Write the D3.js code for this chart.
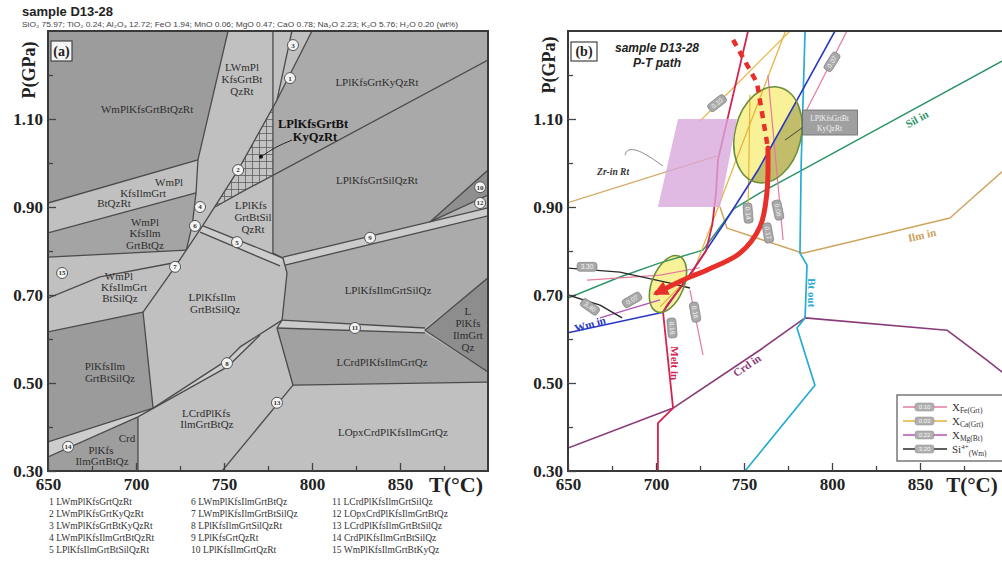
<!DOCTYPE html>
<html>
<head>
<meta charset="utf-8">
<script src="https://cdn.jsdelivr.net/npm/d3@7/dist/d3.min.js"></script>
<style>
  html, body { margin:0; padding:0; background:#ffffff; }
  svg { display:block; }
</style>
</head>
<body>
<svg id="chart" width="1002" height="564"></svg>
<script>
// ================= DATA =================
const tempDomain = [650, 900];
const pressDomain = [0.30, 1.30];
const tempTicks = [650, 700, 750, 800, 850];
const tempMinorTicks = [675, 725, 775, 825, 875];
const pressTicks = [0.30, 0.50, 0.70, 0.90, 1.10];
const pressMinorTicks = [0.40, 0.60, 0.80, 1.00, 1.20];

const sampleName = "sample D13-28";
const bulkComposition = "SiO\u2082 75.97; TiO\u2082 0.24; Al\u2082O\u2083 12.72; FeO 1.94; MnO 0.06; MgO 0.47; CaO 0.78; Na\u2082O 2.23; K\u2082O 5.76; H\u2082O 0.20 (wt%)";

// ---- Panel (a) phase fields, [T (°C), P (GPa)] ----
const fieldWmPlKfsGrtBtQzRt   = [[650,1.30],[752.3,1.30],[735.2,1.007],[650,0.909]];
const fieldWmPlKfsIlmGrtBtQz  = [[650,0.841],[734.1,0.932],[732,0.86],[728.6,0.802],[650,0.786]];
const fieldPlKfsIlmGrtBtSilQz = [[650,0.616],[704,0.661],[709.7,0.443],[650,0.366]];
const fieldCrdPlKfsIlmGrtBtQz = [[650,0.332],[701.1,0.423],[701.1,0.30],[650,0.30]];
const fieldLPlKfsGrtKyQzRt    = [[800,1.30],[900,1.30],[900,1.234],[777.8,0.972],[777.8,1.127],[780.1,1.143]];
const fieldLPlKfsGrtSilQzRt   = [[777.8,0.972],[900,1.234],[900,0.984],[867,0.866],[783.5,0.786],[777.8,0.795]];
const fieldLPlKfsIlmGrtSilQz  = [[784.7,0.768],[900,0.880],[900,0.739],[864.2,0.625],[783,0.643],[785.8,0.75]];
const fieldLCrdPlKfsIlmGrtQz  = [[780.1,0.625],[864.2,0.614],[900,0.525],[900,0.502],[789.2,0.495]];
const fieldLPlKfsIlmGrtQz     = [[864.2,0.62],[900,0.739],[900,0.525]];
const fieldWedgeHighT1        = [[867,0.866],[900,0.984],[900,0.927]];
const fieldWedgeHighT2        = [[867,0.866],[900,0.927],[900,0.898]];
const fieldPeakHatched        = [[777.8,1.127],[777.8,0.972],[744.9,0.900],[758,0.984]];
const band5  = [[650,0.366],[709.7,0.443],[751.7,0.552],[770.5,0.609],[751.7,0.536],[701.1,0.423],[650,0.332]];
const bandB5 = [[738.1,0.857],[783.5,0.784],[781.8,0.766],[736.4,0.843]];
const band9  = [[783.5,0.786],[900,0.898],[900,0.880],[784.7,0.768]];
const band11 = [[783,0.643],[864.2,0.625],[864.2,0.614],[780.1,0.625]];

// ---- Panel (a) field boundaries ----
const boundaryLinesA = [
  [[752.3,1.30],[735.2,1.007],[734.1,0.932],[732,0.86],[728.6,0.802]],
  [[650,0.909],[735.2,1.007]],
  [[650,0.841],[734.1,0.932]],
  [[650,0.786],[728.6,0.802]],
  [[650,0.693],[679.5,0.741],[723.9,0.775]],
  [[650,0.616],[704,0.661]],
  [[800,1.30],[780.1,1.143],[758,0.984],[738.1,0.859],[722.2,0.764],[704,0.661]],
  [[788.6,1.30],[780.1,1.143]],
  [[777.8,1.30],[777.8,0.795],[783.5,0.784]],
  [[900,1.234],[759.1,0.932],[744.9,0.900]],
  [[704,0.661],[709.7,0.443]],
  [[650,0.366],[709.7,0.443],[751.7,0.552],[759.1,0.582],[783,0.643]],
  [[650,0.332],[701.1,0.423],[751.7,0.536],[770.5,0.609]],
  [[701.1,0.423],[701.1,0.30]],
  [[738.1,0.857],[783.5,0.784]],
  [[736.4,0.843],[781.8,0.766]],
  [[783.5,0.786],[900,0.898]],
  [[784.7,0.768],[900,0.880]],
  [[867,0.866],[900,0.984]],
  [[867,0.866],[900,0.927]],
  [[783.5,0.784],[785.8,0.75],[783,0.643],[780.1,0.625],[789.2,0.495]],
  [[783,0.643],[864.2,0.625]],
  [[780.1,0.625],[864.2,0.614]],
  [[900,0.739],[864.2,0.62],[900,0.525]],
  [[789.2,0.495],[900,0.502]],
  [[748.9,0.30],[789.2,0.495]]
];

// ---- Panel (a) field labels [T, P, text] ----
const fieldLabelsA = [
  [706.3,1.123,"WmPlKfsGrtBtQzRt"],
  [760.2,1.218,"LWmPl"],[760.2,1.191,"KfsGrtBt"],[760.2,1.164,"QzRt"],
  [836.9,1.184,"LPlKfsGrtKyQzRt"],
  [836.9,0.961,"LPlKfsGrtSilQzRt"],
  [718.8,0.957,"WmPl"],[704,0.932,"KfsIlmGrt"],[687.5,0.909,"BtQzRt"],
  [705.1,0.866,"WmPl"],[705.1,0.841,"KfsIlm"],[705.1,0.814,"GrtBtQz"],
  [690.3,0.742,"WmPl"],[693.2,0.717,"KfsIlmGrt"],[690.9,0.692,"BtSilQz"],
  [765.3,0.905,"LPlKfs"],[766.5,0.877,"GrtBtSil"],[766.5,0.850,"QzRt"],
  [743.2,0.695,"LPlKfsIlm"],[744.9,0.668,"GrtBtSilQz"],
  [682.4,0.539,"PlKfsIlm"],[685.2,0.511,"GrtBtSilQz"],
  [739.8,0.432,"LCrdPlKfs"],[740.3,0.407,"IlmGrtBtQz"],
  [694.9,0.375,"Crd"],[680.1,0.348,"PlKfs"],[680.7,0.323,"IlmGrtBtQz"],
  [843.2,0.711,"LPlKfsIlmGrtSilQz"],
  [839.8,0.548,"LCrdPlKfsIlmGrtQz"],
  [888.6,0.664,"L"],[888.6,0.636,"PlKfs"],[888.6,0.609,"IlmGrt"],[888.6,0.582,"Qz"],
  [846,0.389,"LOpxCrdPlKfsIlmGrtQz"]
];
const peakLabelA = [[800.6,1.089,"LPlKfsGrtBt"],[801.7,1.061,"KyQzRt"]];
const peakLeaderA = [[788.6,1.052],[780.7,1.039],[775,1.025],[771,1.014]];

// ---- Panel (a) numbered small fields [T, P, number] ----
const smallFieldMarks = [
  [789.2,1.268,"3"],[787.5,1.193,"1"],[758,0.984,"2"],[736.4,0.900,"4"],[733.5,0.857,"6"],
  [757.4,0.820,"5"],[722.2,0.764,"7"],[658,0.750,"15"],[751.7,0.545,"8"],[661.4,0.355,"14"],
  [780.1,0.455,"13"],[824.4,0.625,"11"],[833,0.830,"9"],[895.5,0.945,"10"],[895.5,0.909,"12"]
];

const assemblageList = [
  "1 LWmPlKfsGrtQzRt","2 LWmPlKfsGrtKyQzRt","3 LWmPlKfsGrtBtKyQzRt","4 LWmPlKfsIlmGrtBtQzRt","5 LPlKfsIlmGrtBtSilQzRt",
  "6 LWmPlKfsIlmGrtBtQz","7 LWmPlKfsIlmGrtBtSilQz","8 LPlKfsIlmGrtSilQzRt","9 LPlKfsGrtQzRt","10 LPlKfsIlmGrtQzRt",
  "11 LCrdPlKfsIlmGrtSilQz","12 LOpxCrdPlKfsIlmGrtBtQz","13 LCrdPlKfsIlmGrtBtSilQz","14 CrdPlKfsIlmGrtBtSilQz","15 WmPlKfsIlmGrtBtKyQz"
];

// ---- Panel (b) reaction lines ----
const meltInLine = [[752.3,1.30],[735.2,1.007],[734.1,0.932],[732,0.86],[728.4,0.80],[718.2,0.739],[706.3,0.677],[704,0.661],[709.7,0.443],[701.1,0.409],[701.1,0.30]];
const wmOutLine  = [[801.7,1.30],[780.1,1.143],[758,0.984],[738.1,0.859],[722.2,0.764],[704,0.661],[650,0.614]];
const btOutLine  = [[784.7,1.30],[782.5,1.00],[781.8,0.795],[785.8,0.768],[784.7,0.648],[780.1,0.625],[790.3,0.495],[750.6,0.30]];
const silInLine  = [[900,1.239],[783,0.984],[759.1,0.932],[744,0.895],[726.7,0.802],[702.3,0.773],[679.5,0.741],[650,0.693]];
const crdInLine  = [[650,0.352],[709.7,0.443],[759.1,0.575],[784.7,0.648],[865.3,0.620],[888,0.552],[900,0.514]];
const ilmInLine  = [[900,0.992],[867,0.875],[783.5,0.795],[740.3,0.852],[736.4,0.90]];
const rtLine     = [[650,0.91],[734.7,1.016]];
// ---- Panel (b) isopleths ----
const xCaIso1 = [[776.1,1.30],[734.7,1.134],[724.4,1.093]];
const xCaIso2 = [[773.6,1.30],[721,0.75],[702.3,0.673]];
const xCaIso3 = [[753.4,1.155],[752.3,0.886]];
const xFeIso1 = [[763.6,1.20],[772.2,0.825]];
const xFeIso2 = [[660.8,0.734],[702.3,0.745],[725,0.762]];
const xFeIso3 = [[719.3,0.711],[726.7,0.564]];
const xFeIso4 = [[808.5,1.30],[783,1.10]];
const xMgIso1 = [[668.2,0.648],[702.3,0.689]];
const siIso1  = [[650,0.761],[679.5,0.752],[708,0.727],[719.3,0.716]];
const siIso2  = [[650,0.70],[668.2,0.677],[680.7,0.648]];
const isoLabels = [
  [800,1.23,"0.07",-58],[734.7,1.136,"0.10",-38],[752.3,0.886,"0.14",85],[769.3,0.893,"0.06",78],
  [763.6,0.841,"0.17",80],[660.8,0.764,"3.30",0],[662.5,0.673,"3.40",35],[686.4,0.689,"0.07",-30],
  [709.1,0.625,"0.16",85],[722.2,0.661,"0.16",80]
];
// ---- Panel (b) Zr-in-rutile box, P–T path and estimates ----
const zrInRtBox = [[712.5,1.10],[746,1.10],[736.4,0.90],[701.1,0.90]];
const zrLabel = [675.6,0.98,"Zr-in Rt"];
const zrLeader = [[682.4,1.018],[683.5,1.032],[690.9,1.030],[704,0.993]];
const ptPathPeak = [[743.8,1.28],[757.4,1.182],[763.6,1.034]];
const ptPathRetro = [[763.6,1.034],[763,0.932],[759.1,0.855],[747.7,0.795],[729,0.757],[718.2,0.739],[700.6,0.705]];
const ellipseCentres = [[763.6,1.064],[706.8,0.725]];
const ellipseHalfT = [18.75, 9.1];
const ellipseHalfP = [0.111, 0.068];
const peakFieldB = [[781.8,1.155],[783,0.984],[759.1,0.932],[744,0.895],[758,0.984]];
const peakCalloutAt = [798.6,1.092];
const peakCalloutTarget = [773.3,1.052];
const peakCalloutText = ["LPlKfsGrtBt","KyQzRt"];
const reactionLabels = [
  [848.3,1.100,"Sil in",-29,"sil"],[851.1,0.836,"Ilm in",-13,"ilm"],[788.6,0.705,"Bt out",90,"bt"],
  [751.7,0.540,"Crd in",-34,"crd"],[710.6,0.545,"Melt in",90,"melt"],[662.5,0.634,"Wm in",-16,"wm"]
];
const legendMain = ["X","X","X","Si"];
const legendSup  = ["","","","4+"];
const legendSub  = ["Fe(Grt)","Ca(Grt)","Mg(Bt)","(Wm)"];
const legendSample = ["0.10","0.03","0.22","3.20"];

// ================= DRAWING =================
const svg = d3.select("#chart");
const SERIF = "'Liberation Serif','Times New Roman',serif";
const SANS = "'Liberation Sans',Arial,Helvetica,sans-serif";

const xA = d3.scaleLinear().domain(tempDomain).range([48, 488]);
const yA = d3.scaleLinear().domain(pressDomain).range([471, 31]);
const xB = d3.scaleLinear().domain(tempDomain).range([568, 1008]);
const yB = yA.copy();
const lineA = d3.line().x(d => xA(d[0])).y(d => yA(d[1]));
const lineB = d3.line().x(d => xB(d[0])).y(d => yB(d[1]));

const defs = svg.append("defs");
defs.append("clipPath").attr("id","clipA").append("rect").attr("x",48).attr("y",31).attr("width",440).attr("height",440);
defs.append("clipPath").attr("id","clipB").append("rect").attr("x",568).attr("y",31).attr("width",440).attr("height",440);
const pat = defs.append("pattern").attr("id","grid").attr("patternUnits","userSpaceOnUse").attr("width",7).attr("height",7);
pat.append("rect").attr("width",7).attr("height",7).attr("fill","#c3c3c3");
pat.append("path").attr("d","M0,0.5H7M0.5,0V7").attr("stroke","#5f5f5f").attr("stroke-width",0.8);
const mk = defs.append("marker").attr("id","arrowRed").attr("viewBox","0 0 10 10").attr("refX",7).attr("refY",5)
  .attr("markerUnits","userSpaceOnUse").attr("markerWidth",15).attr("markerHeight",15).attr("orient","auto");
mk.append("path").attr("d","M0,0L10,5L0,10Z").attr("fill","#e8302a");

// header
svg.append("text").attr("x",22).attr("y",16).attr("font-family",SANS).attr("font-weight","bold")
  .attr("font-size",13).attr("fill","#222").text(sampleName);
svg.append("text").attr("x",22).attr("y",26.5).attr("font-family",SANS).attr("font-size",6.8)
  .attr("fill","#444").attr("textLength",436).attr("lengthAdjust","spacingAndGlyphs").text(bulkComposition);

function drawAxes(g, x, y) {
  const bottom = y.range()[0], left = x.range()[0];
  const parts = [];
  parts.push(g.append("g").attr("transform",`translate(0,${bottom})`)
    .call(d3.axisBottom(x).tickValues(tempTicks).tickSize(-8).tickPadding(7).tickFormat(d3.format("d"))));
  parts.push(g.append("g").attr("transform",`translate(0,${bottom})`)
    .call(d3.axisBottom(x).tickValues(tempMinorTicks).tickSize(-5).tickFormat("")));
  parts.push(g.append("g").attr("transform",`translate(${left},0)`)
    .call(d3.axisLeft(y).tickValues(pressTicks).tickSize(-8).tickPadding(5).tickFormat(d3.format(".2f"))));
  parts.push(g.append("g").attr("transform",`translate(${left},0)`)
    .call(d3.axisLeft(y).tickValues(pressMinorTicks).tickSize(-5).tickFormat("")));
  parts.forEach(a => {
    a.select(".domain").remove();
    a.selectAll(".tick line").attr("stroke","#444").attr("stroke-width",1.3);
    a.selectAll(".tick text").attr("font-family",SERIF).attr("font-weight","bold").attr("font-size",17).attr("fill","#222");
  });
}

// ---------- Panel (a) ----------
const gA = svg.append("g");
const plotA = gA.append("g").attr("clip-path","url(#clipA)");
plotA.append("rect").attr("x",48).attr("y",31).attr("width",440).attr("height",440).attr("fill","#c0c0c0");
const fieldsA = [
  [fieldWmPlKfsGrtBtQzRt,"#9c9c9c"],[fieldWmPlKfsIlmGrtBtQz,"#a4a4a4"],[fieldPlKfsIlmGrtBtSilQz,"#9b9b9b"],
  [fieldCrdPlKfsIlmGrtBtQz,"#9e9e9e"],[fieldLPlKfsGrtKyQzRt,"#aaaaaa"],[fieldLPlKfsGrtSilQzRt,"#a9a9a9"],
  [fieldLPlKfsIlmGrtSilQz,"#ababab"],[fieldLCrdPlKfsIlmGrtQz,"#a1a1a1"],[fieldLPlKfsIlmGrtQz,"#8d8d8d"],
  [fieldWedgeHighT1,"#8f8f8f"],[fieldWedgeHighT2,"#b4b4b4"],
  [band5,"#cdcdcd"],[bandB5,"#cdcdcd"],[band9,"#cbcbcb"],[band11,"#cbcbcb"],
  [fieldPeakHatched,"url(#grid)"]
];
plotA.selectAll("path.field").data(fieldsA).join("path").attr("class","field")
  .attr("d", d => lineA(d[0]) + "Z").attr("fill", d => d[1]).attr("stroke","none");
plotA.selectAll("path.bnd").data(boundaryLinesA).join("path").attr("class","bnd")
  .attr("d", lineA).attr("fill","none").attr("stroke","#4b4b4b").attr("stroke-width",1.3).attr("stroke-linejoin","round");

plotA.selectAll("text.fl").data(fieldLabelsA).join("text").attr("class","fl")
  .attr("x", d => xA(d[0])).attr("y", d => yA(d[1])).attr("dy","0.35em").attr("text-anchor","middle")
  .attr("font-family",SERIF).attr("font-size",11).attr("fill","#2e2e2e").text(d => d[2]);
plotA.selectAll("text.pk").data(peakLabelA).join("text").attr("class","pk")
  .attr("x", d => xA(d[0])).attr("y", d => yA(d[1])).attr("dy","0.35em").attr("text-anchor","middle")
  .attr("font-family",SERIF).attr("font-weight","bold").attr("font-size",12.5).attr("fill","#111").text(d => d[2]);
plotA.append("path").attr("d", d3.line().curve(d3.curveBasis).x(d=>xA(d[0])).y(d=>yA(d[1]))(peakLeaderA))
  .attr("fill","none").attr("stroke","#222").attr("stroke-width",1);
plotA.append("circle").attr("cx", xA(peakLeaderA[3][0])).attr("cy", yA(peakLeaderA[3][1])).attr("r",2).attr("fill","#111");

const marks = plotA.selectAll("g.mk").data(smallFieldMarks).join("g").attr("class","mk")
  .attr("transform", d => `translate(${xA(d[0])},${yA(d[1])})`);
marks.append("circle").attr("r",5.5).attr("fill","#f3f3f3").attr("stroke","#555").attr("stroke-width",1);
marks.append("text").attr("text-anchor","middle").attr("dy","0.35em").attr("font-family",SERIF)
  .attr("font-size",7).attr("font-weight","bold").attr("fill","#333").text(d => d[2]);

gA.append("rect").attr("x",48).attr("y",31).attr("width",440).attr("height",440)
  .attr("fill","none").attr("stroke","#3a3a3a").attr("stroke-width",2);
drawAxes(gA, xA, yA);
gA.append("rect").attr("x",51).attr("y",41).attr("width",21).attr("height",20).attr("fill","#f4f4f4").attr("stroke","#444").attr("stroke-width",1.2);
gA.append("text").attr("x",61.5).attr("y",56).attr("text-anchor","middle").attr("font-family",SERIF)
  .attr("font-weight","bold").attr("font-size",14).attr("fill","#222").text("(a)");
gA.append("text").attr("transform","translate(35,70) rotate(-90)").attr("text-anchor","middle")
  .attr("font-family",SERIF).attr("font-weight","bold").attr("font-size",18).attr("fill","#222").text("P(GPa)");
gA.append("text").attr("x",456).attr("y",492).attr("text-anchor","middle").attr("font-family",SERIF)
  .attr("font-weight","bold").attr("font-size",22).attr("fill","#222").text("T(\u00B0C)");

const legCols = [49, 191, 332];
svg.append("g").selectAll("text").data(assemblageList).join("text")
  .attr("x", (d,i) => legCols[Math.floor(i/5)]).attr("y", (d,i) => 505 + (i%5)*12)
  .attr("font-family",SERIF).attr("font-size",9.5).attr("fill","#333").text(d => d);

// ---------- Panel (b) ----------
const gB = svg.append("g");
const plotB = gB.append("g").attr("clip-path","url(#clipB)");
const tilt = [14, 22];
const ellG = ellipseCentres.map((c,i) => {
  const rx = xB(c[0] + ellipseHalfT[i]) - xB(c[0]);
  const ry = yB(c[1] - ellipseHalfP[i]) - yB(c[1]);
  return {cx: xB(c[0]), cy: yB(c[1]), rx, ry, a: tilt[i]};
});
const cp = defs.append("clipPath").attr("id","ellUp");
cp.append("ellipse").attr("transform",`translate(${ellG[0].cx},${ellG[0].cy}) rotate(${ellG[0].a})`)
  .attr("rx",ellG[0].rx).attr("ry",ellG[0].ry);
plotB.selectAll("ellipse.est").data(ellG).join("ellipse").attr("class","est")
  .attr("transform", d => `translate(${d.cx},${d.cy}) rotate(${d.a})`)
  .attr("rx", d => d.rx).attr("ry", d => d.ry).attr("fill","#f8ef8c").attr("fill-opacity",0.9);
plotB.append("path").attr("d", lineB(peakFieldB) + "Z").attr("fill","#8c8a40").attr("fill-opacity",0.5)
  .attr("clip-path","url(#ellUp)");

const linesB = [
  [rtLine,"#d3aa68",1.3],[ilmInLine,"#cfa45e",1.5],[crdInLine,"#8a3a78",1.6],[silInLine,"#2e9468",1.5],
  [btOutLine,"#27acd4",1.7],[xCaIso1,"#e6b23a",1.2],[xCaIso2,"#e6b23a",1.2],[xCaIso3,"#e6b23a",1.2],
  [xFeIso1,"#e47a9c",1.2],[xFeIso2,"#e47a9c",1.2],[xFeIso3,"#e47a9c",1.2],[xFeIso4,"#e47a9c",1.2],
  [xMgIso1,"#b055b5",1.3],[siIso1,"#2a2a2a",1.4],[siIso2,"#2a2a2a",1.4],
  [wmOutLine,"#2838c4",1.6],[meltInLine,"#d4244f",1.8]
];
plotB.selectAll("path.rx").data(linesB).join("path").attr("class","rx")
  .attr("d", d => lineB(d[0])).attr("fill","none").attr("stroke", d => d[1]).attr("stroke-width", d => d[2])
  .attr("stroke-linejoin","round");

plotB.selectAll("ellipse.out").data(ellG).join("ellipse").attr("class","out")
  .attr("transform", d => `translate(${d.cx},${d.cy}) rotate(${d.a})`)
  .attr("rx", d => d.rx).attr("ry", d => d.ry).attr("fill","none").attr("stroke","#6b8f3a").attr("stroke-width",1.6);

plotB.append("path").attr("d", lineB(zrInRtBox) + "Z").attr("fill","#d9a7dc").attr("fill-opacity",0.78);
plotB.append("path").attr("d", d3.line().curve(d3.curveBasis).x(d=>xB(d[0])).y(d=>yB(d[1]))(zrLeader))
  .attr("fill","none").attr("stroke","#888").attr("stroke-width",1);
plotB.append("text").attr("x", xB(zrLabel[0])).attr("y", yB(zrLabel[1])).attr("dy","0.35em").attr("text-anchor","middle")
  .attr("font-family",SERIF).attr("font-weight","bold").attr("font-style","italic").attr("font-size",9.5).attr("fill","#333").text(zrLabel[2]);

// P–T path
plotB.append("path").attr("d", lineB(ptPathPeak)).attr("fill","none").attr("stroke","#e8302a")
  .attr("stroke-width",4.5).attr("stroke-dasharray","7,6");
plotB.append("path").attr("d", d3.line().curve(d3.curveCatmullRom).x(d=>xB(d[0])).y(d=>yB(d[1]))(ptPathRetro))
  .attr("fill","none").attr("stroke","#e8302a").attr("stroke-width",5).attr("stroke-linecap","round")
  .attr("marker-end","url(#arrowRed)");

// isopleth value tags
const tags = plotB.selectAll("g.tag").data(isoLabels).join("g").attr("class","tag")
  .attr("transform", d => `translate(${xB(d[0])},${yB(d[1])}) rotate(${d[3]})`);
tags.append("rect").attr("x",-10).attr("y",-4.5).attr("width",20).attr("height",9).attr("rx",3)
  .attr("fill","#a9a9a9").attr("stroke","#777").attr("stroke-width",0.6);
tags.append("text").attr("text-anchor","middle").attr("dy","0.35em").attr("font-family",SANS)
  .attr("font-size",6.5).attr("fill","#f5f5f5").text(d => d[2]);

// callout for peak field
const co = plotB.append("g").attr("transform",`translate(${xB(peakCalloutAt[0])},${yB(peakCalloutAt[1])})`);
co.append("rect").attr("x",-27).attr("y",-12.5).attr("width",55).attr("height",25)
  .attr("fill","#a0a0a0").attr("stroke","#666").attr("stroke-width",0.8);
co.selectAll("text").data(peakCalloutText).join("text").attr("text-anchor","middle")
  .attr("y",(d,i)=> -2 + i*10).attr("font-family",SERIF).attr("font-size",7.5).attr("fill","#f2f2f2").text(d=>d);
plotB.append("line").attr("x1", xB(peakCalloutAt[0]) - 27).attr("y1", yB(peakCalloutAt[1]) + 5)
  .attr("x2", xB(peakCalloutTarget[0])).attr("y2", yB(peakCalloutTarget[1])).attr("stroke","#444").attr("stroke-width",1);

// reaction labels
const rxColor = {sil:"#2e9468", ilm:"#c9a05a", bt:"#27acd4", crd:"#8a3a78", melt:"#d4244f", wm:"#2838c4"};
plotB.selectAll("text.rl").data(reactionLabels).join("text").attr("class","rl")
  .attr("transform", d => `translate(${xB(d[0])},${yB(d[1])}) rotate(${d[3]})`)
  .attr("text-anchor","middle").attr("dy","0.35em").attr("font-family",SERIF).attr("font-weight","bold")
  .attr("font-size",11).attr("fill", d => rxColor[d[4]]).text(d => d[2]);

// frame & axes
gB.append("rect").attr("x",568).attr("y",31).attr("width",440).attr("height",440)
  .attr("fill","none").attr("stroke","#3a3a3a").attr("stroke-width",2);
drawAxes(gB, xB, yB);
gB.append("rect").attr("x",571).attr("y",42).attr("width",26).attr("height",19).attr("fill","#fff").attr("stroke","#444").attr("stroke-width",1.2);
gB.append("text").attr("x",584).attr("y",56).attr("text-anchor","middle").attr("font-family",SERIF)
  .attr("font-weight","bold").attr("font-size",14).attr("fill","#222").text("(b)");
gB.append("text").attr("x",657).attr("y",52).attr("text-anchor","middle").attr("font-family",SANS)
  .attr("font-weight","bold").attr("font-style","italic").attr("font-size",12).attr("fill","#222").text(sampleName);
gB.append("text").attr("x",657).attr("y",67).attr("text-anchor","middle").attr("font-family",SANS)
  .attr("font-weight","bold").attr("font-style","italic").attr("font-size",12).attr("fill","#222").text("P-T path");
gB.append("text").attr("transform","translate(555,65) rotate(-90)").attr("text-anchor","middle")
  .attr("font-family",SERIF).attr("font-weight","bold").attr("font-size",18).attr("fill","#222").text("P(GPa)");
gB.append("text").attr("x",972).attr("y",492).attr("text-anchor","middle").attr("font-family",SERIF)
  .attr("font-weight","bold").attr("font-size",21).attr("fill","#222").text("T(\u00B0C)");

// legend (b)
const legColors = ["#e47a9c","#e6b23a","#b055b5","#2a2a2a"];
const lg = gB.append("g");
lg.append("rect").attr("x",897).attr("y",395).attr("width",120).attr("height",66).attr("fill","#fff").attr("stroke","#555").attr("stroke-width",1.2);
legendMain.forEach((m,i) => {
  const yy = 407 + i*14;
  lg.append("line").attr("x1",903).attr("x2",947).attr("y1",yy).attr("y2",yy).attr("stroke",legColors[i]).attr("stroke-width",1.6);
  lg.append("rect").attr("x",915).attr("y",yy-4).attr("width",19).attr("height",8).attr("rx",2.5)
    .attr("fill","#b0b0b0").attr("stroke","#888").attr("stroke-width",0.5);
  lg.append("text").attr("x",924.5).attr("y",yy).attr("dy","0.35em").attr("text-anchor","middle")
    .attr("font-family",SANS).attr("font-size",6).attr("fill","#f5f5f5").text(legendSample[i]);
  const t = lg.append("text").attr("x",952).attr("y",yy).attr("dy","0.35em").attr("font-family",SERIF)
    .attr("font-size",11).attr("fill","#333");
  t.append("tspan").text(m);
  if (legendSup[i]) t.append("tspan").attr("font-size",7).attr("dy","-0.5em").text(legendSup[i]);
  t.append("tspan").attr("font-size",7.5).attr("dy", legendSup[i] ? "0.9em" : "0.3em").text(legendSub[i]);
});
</script>
</body>
</html>
